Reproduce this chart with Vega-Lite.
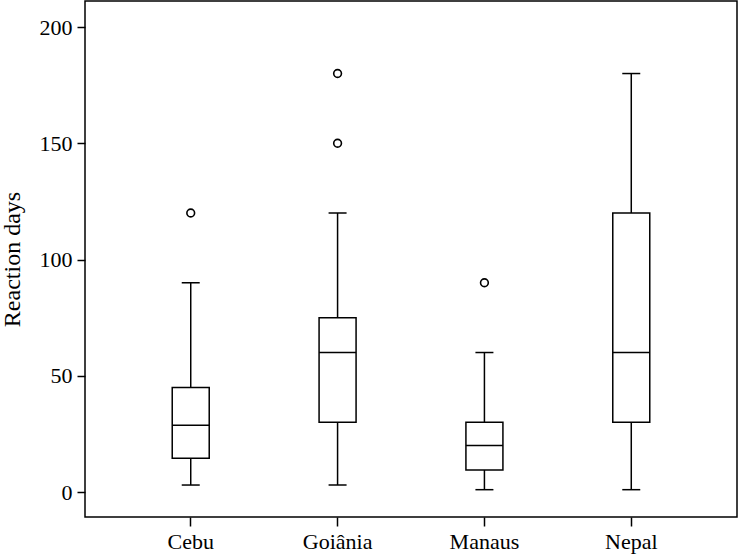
{
  "$schema": "https://vega.github.io/schema/vega-lite/v6.json",
  "autosize": "none",
  "padding": {"left": 85, "top": 1, "right": 3, "bottom": 42},
  "width": 652,
  "height": 516,
  "background": "white",
  "config": {
    "view": {"stroke": "black", "strokeWidth": 1.5},
    "font": "Liberation Serif",
    "axis": {
      "labelFont": "Liberation Serif",
      "titleFont": "Liberation Serif",
      "labelFontSize": 22,
      "titleFontSize": 24,
      "titleFontWeight": "normal",
      "labelColor": "black",
      "titleColor": "black",
      "tickColor": "black",
      "domain": false,
      "grid": false,
      "tickSize": 8,
      "tickWidth": 1.5
    }
  },
  "datasets": {
    "stats": [
      {"site": "Cebu", "min": 3, "q1": 14.5, "median": 28.7, "q3": 45, "max": 90},
      {"site": "Goiânia", "min": 3, "q1": 30, "median": 60, "q3": 75, "max": 120},
      {"site": "Manaus", "min": 1, "q1": 9.5, "median": 20, "q3": 30, "max": 60},
      {"site": "Nepal", "min": 1, "q1": 30, "median": 60, "q3": 120, "max": 180}
    ],
    "outliers": [
      {"site": "Cebu", "value": 120},
      {"site": "Goiânia", "value": 150},
      {"site": "Goiânia", "value": 180},
      {"site": "Manaus", "value": 90}
    ]
  },
  "encoding": {
    "x": {
      "field": "site",
      "type": "nominal",
      "sort": ["Cebu", "Goiânia", "Manaus", "Nepal"],
      "scale": {"domain": ["Cebu", "Goiânia", "Manaus", "Nepal"], "paddingInner": 0, "paddingOuter": 0.22},
      "axis": {"title": null, "labelAngle": 0, "labelPadding": 5, "tickSize": 9, "labelFontSize": 22, "labelFont": "Liberation Serif"}
    }
  },
  "layer": [
    {
      "data": {"name": "stats"},
      "mark": {"type": "rule", "stroke": "black", "strokeWidth": 1.5},
      "encoding": {
        "y": {
          "field": "min",
          "type": "quantitative",
          "scale": {"domain": [-10.75, 211.2], "nice": false, "zero": false},
          "axis": {"title": "Reaction days", "values": [0, 50, 100, 150, 200], "labelPadding": 5, "titlePadding": 15, "labelFontSize": 22, "titleFontSize": 24, "labelFont": "Liberation Serif", "titleFont": "Liberation Serif"}
        },
        "y2": {"field": "max"}
      }
    },
    {
      "data": {"name": "stats"},
      "mark": {"type": "bar", "size": 37, "fill": "white", "stroke": "black", "strokeWidth": 1.5},
      "encoding": {
        "y": {"field": "q1", "type": "quantitative"},
        "y2": {"field": "q3"}
      }
    },
    {
      "data": {"name": "stats"},
      "mark": {"type": "tick", "size": 37, "thickness": 1.5, "color": "black", "opacity": 1, "orient": "horizontal"},
      "encoding": {"y": {"field": "median", "type": "quantitative"}}
    },
    {
      "data": {"name": "stats"},
      "mark": {"type": "tick", "size": 18, "thickness": 1.5, "color": "black", "opacity": 1, "orient": "horizontal"},
      "encoding": {"y": {"field": "min", "type": "quantitative"}}
    },
    {
      "data": {"name": "stats"},
      "mark": {"type": "tick", "size": 18, "thickness": 1.5, "color": "black", "opacity": 1, "orient": "horizontal"},
      "encoding": {"y": {"field": "max", "type": "quantitative"}}
    },
    {
      "data": {"name": "outliers"},
      "mark": {"type": "point", "shape": "circle", "size": 60, "filled": false, "stroke": "black", "strokeWidth": 1.6, "opacity": 1},
      "encoding": {"y": {"field": "value", "type": "quantitative"}}
    }
  ]
}
